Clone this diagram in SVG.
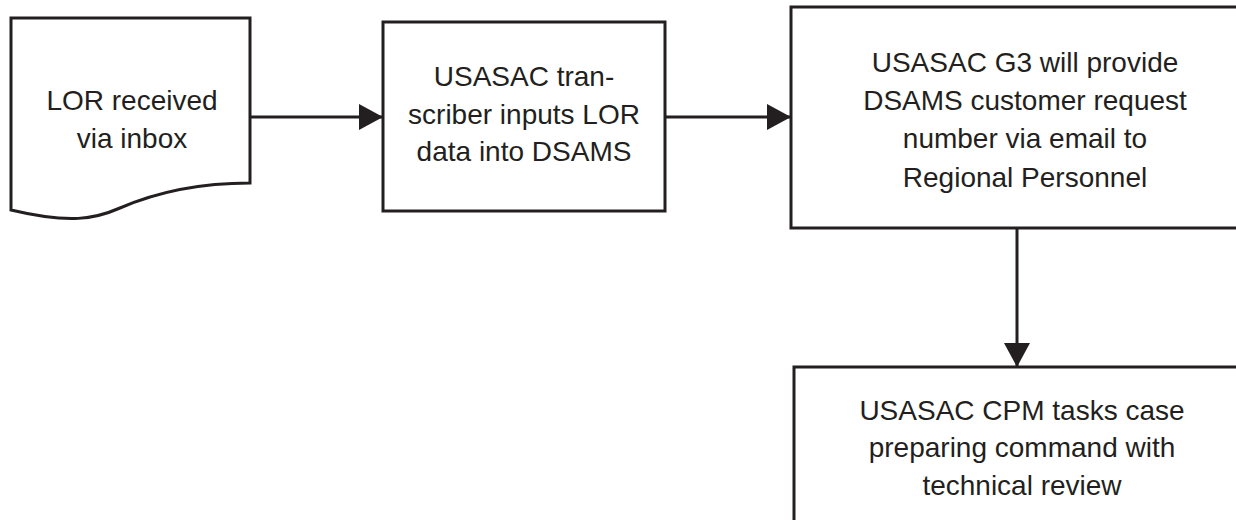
<svg xmlns="http://www.w3.org/2000/svg" width="1236" height="522" viewBox="0 0 1236 522">
<style>
.s{fill:#fff;stroke:#231f20;stroke-width:3}
.c{fill:none;stroke:#231f20;stroke-width:3}
text{font-family:"Liberation Sans",Arial,sans-serif;font-size:28px;fill:#231f20;text-anchor:middle}
</style>
<defs>
<marker id="ah" markerUnits="userSpaceOnUse" markerWidth="26" markerHeight="28" refX="24" refY="13" orient="auto">
<path d="M0,0 L24,13 L0,26 Z" fill="#231f20"/>
</marker>
</defs>
<rect width="1236" height="522" fill="#fff"/>
<g id="n1">
<path class="s" d="M11,18 H250 V183 C190,183 150,195 120,208 C95,219 70,224 11,210 Z"/>
<text x="132" y="110">LOR received</text>
<text x="132" y="148">via inbox</text>
</g>
<g id="n2">
<rect class="s" x="383" y="22" width="282" height="189"/>
<text x="524" y="86">USASAC tran-</text>
<text x="524" y="124">scriber inputs LOR</text>
<text x="524" y="161">data into DSAMS</text>
</g>
<g id="n3">
<rect class="s" x="791" y="7" width="460" height="221"/>
<text x="1025" y="72">USASAC G3 will provide</text>
<text x="1025" y="110">DSAMS customer request</text>
<text x="1025" y="148">number via email to</text>
<text x="1025" y="187">Regional Personnel</text>
</g>
<g id="n4">
<path class="s" d="M794,520 V367 H1250 V540"/>
<text x="1022" y="420">USASAC CPM tasks case</text>
<text x="1022" y="457">preparing command with</text>
<text x="1022" y="495">technical review</text>
</g>
<g id="connectors">
<path class="c" d="M250,117 H383" marker-end="url(#ah)"/>
<path class="c" d="M665,117 H791" marker-end="url(#ah)"/>
<path class="c" d="M1017,228 V367" marker-end="url(#ah)"/>
</g>
</svg>
